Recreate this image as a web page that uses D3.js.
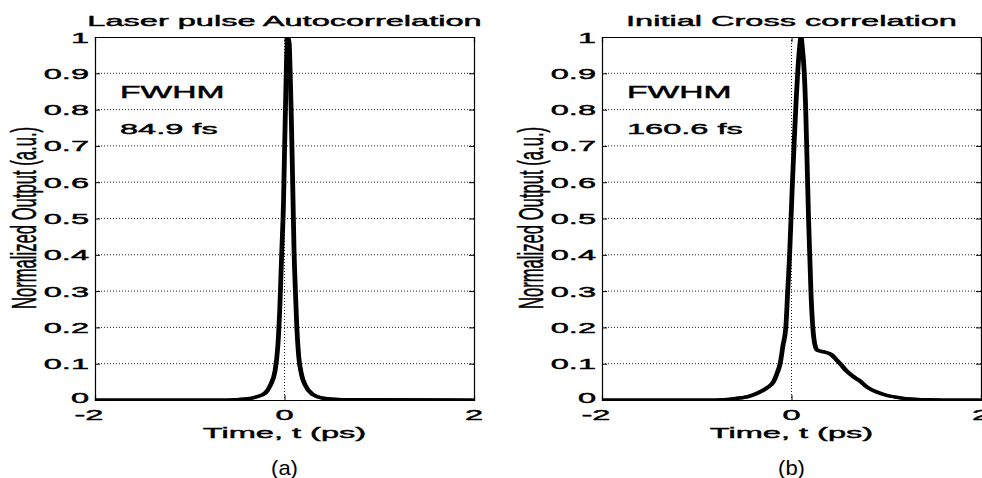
<!DOCTYPE html>
<html>
<head>
<meta charset="utf-8">
<script src="https://cdn.jsdelivr.net/npm/d3@7"></script>
<style>
  body { margin: 0; background: #fff; }
  svg { display: block; }
  text { font-family: "Liberation Sans", Arial, sans-serif; fill: #000; }
</style>
</head>
<body>
<svg id="canvas"></svg>
<script>
// pulse (a) - autocorrelation
let tLeft = [-2, -0.6, -0.4, -0.3, -0.2, -0.15, -0.1, -0.07, -0.05, -0.03, -0.01, 0.0, 0.01, 0.02, 0.035, 0.05, 0.06, 0.07, 0.08, 0.09, 0.10, 0.115, 0.13, 0.15, 0.18, 0.22, 0.3, 0.4, 0.6, 2];
let yLeft = [0, 0, 0.003, 0.008, 0.02, 0.04, 0.08, 0.15, 0.25, 0.4, 0.55, 0.68, 0.8, 0.92, 1.0, 0.98, 0.9, 0.8, 0.68, 0.55, 0.42, 0.3, 0.2, 0.12, 0.07, 0.04, 0.015, 0.005, 0.001, 0];

// pulse (b) - cross correlation
let tRight = [-2, -0.8, -0.6, -0.45, -0.35, -0.25, -0.19, -0.15, -0.12, -0.09, -0.06, -0.04, -0.02, -0.005, 0.01, 0.03, 0.05, 0.065, 0.085, 0.1, 0.115, 0.135, 0.15, 0.165, 0.18, 0.195, 0.205, 0.225, 0.245, 0.27, 0.3, 0.35, 0.42, 0.47, 0.52, 0.58, 0.65, 0.72, 0.8, 0.9, 1.0, 1.1, 1.2, 1.4, 1.6, 2];
let yRight = [0, 0, 0.004, 0.01, 0.02, 0.035, 0.05, 0.075, 0.1, 0.15, 0.2, 0.3, 0.4, 0.5, 0.6, 0.72, 0.83, 0.9, 0.97, 1.0, 0.97, 0.9, 0.8, 0.65, 0.5, 0.38, 0.3, 0.2, 0.155, 0.138, 0.135, 0.132, 0.125, 0.112, 0.098, 0.08, 0.065, 0.053, 0.035, 0.022, 0.013, 0.008, 0.004, 0.001, 0, 0];

let xTicks = [-2, 0, 2];
let yTicks = [0, 0.1, 0.2, 0.3, 0.4, 0.5, 0.6, 0.7, 0.8, 0.9, 1];
let titles = ["Laser pulse Autocorrelation", "Initial Cross correlation"];
let fwhm = ["84.9 fs", "160.6 fs"];
let captions = ["(a)", "(b)"];

let width = 982;
let height = 478;
let plotTop = 37;
let plotBottom = 400;
let plotW = 379;
let panelX = [95, 602];
let sx = 2.1; // the scan is stretched horizontally

let canvas = d3.select("#canvas")
  .attr("width", width)
  .attr("height", height);

canvas.append("rect").attr("width", width).attr("height", height).attr("fill", "#fff");

let xScale = d3.scaleLinear().domain([-2, 2]).range([0, plotW]);
let yScale = d3.scaleLinear().domain([0, 1]).range([plotBottom - plotTop, 0]);

let addText = (g, x, y, str, size, anchor, scaleX) => {
  return g.append("text")
    .attr("transform", "translate(" + x + "," + y + ") scale(" + scaleX + ",1)")
    .attr("text-anchor", anchor)
    .attr("font-size", size)
    .attr("stroke", "#000")
    .attr("stroke-width", 0.45)
    .text(str);
}

let drawPanel = (i, tVals, yVals) => {
  let g = canvas.append("g")
    .attr("transform", "translate(" + panelX[i] + "," + plotTop + ")");
  let h = plotBottom - plotTop;

  // dotted grid
  g.append("g").selectAll("line")
    .data(yTicks.filter(d => d > 0 && d < 1))
    .enter().append("line")
    .attr("x1", 0).attr("x2", plotW)
    .attr("y1", d => yScale(d)).attr("y2", d => yScale(d))
    .attr("stroke", "#222").attr("stroke-width", 1)
    .attr("stroke-dasharray", "1,2");

  g.append("line")
    .attr("x1", xScale(0)).attr("x2", xScale(0))
    .attr("y1", 0).attr("y2", h)
    .attr("stroke", "#222").attr("stroke-width", 1)
    .attr("stroke-dasharray", "1,2");

  // curve (drawn twice, a bit apart, so it is thicker sideways like the scan)
  let clipId = "clip" + i;
  g.append("clipPath").attr("id", clipId)
    .append("rect").attr("width", plotW).attr("height", h);

  let data = tVals.map((t, k) => [t, yVals[k]]);
  let line = d3.line()
    .x(d => xScale(d[0]))
    .y(d => yScale(d[1]))
    .curve(d3.curveMonotoneX);

  let curveG = g.append("g").attr("clip-path", "url(#" + clipId + ")");
  [-0.8, 0.8].forEach(dx => {
    curveG.append("path")
      .datum(data)
      .attr("transform", "translate(" + dx + ",0)")
      .attr("d", line)
      .attr("fill", "none")
      .attr("stroke", "#000")
      .attr("stroke-width", 3.2)
      .attr("stroke-linejoin", "round");
  });

  // axes, MATLAB style ticks inside
  let yAxisL = d3.axisLeft(yScale).tickValues(yTicks).tickSize(-5).tickFormat("");
  let yAxisR = d3.axisRight(yScale).tickValues(yTicks).tickSize(-5).tickFormat("");
  let xAxisB = d3.axisBottom(xScale).tickValues(xTicks).tickSize(-5).tickFormat("");
  let xAxisT = d3.axisTop(xScale).tickValues(xTicks).tickSize(-5).tickFormat("");

  g.append("g").call(yAxisL);
  g.append("g").attr("transform", "translate(" + plotW + ",0)").call(yAxisR);
  g.append("g").attr("transform", "translate(0," + h + ")").call(xAxisB);
  g.append("g").call(xAxisT);
  g.selectAll(".domain").attr("stroke", "#000").attr("stroke-width", 1.2);
  g.selectAll(".tick line").attr("stroke", "#000");

  // tick labels
  yTicks.forEach(d => {
    addText(g, -6, yScale(d) + (d === 0 ? 2.5 : 5.5), String(d), 15.5, "end", sx);
  });
  xTicks.forEach(d => {
    addText(g, xScale(d) + (d < 0 ? -6 : 0), h + 19.5, String(d), 15.5, "middle", sx);
  });

  addText(g, plotW / 2, -11, titles[i], 15.5, "middle", sx);
  addText(g, plotW / 2, h + 37.5, "Time, t (ps)", 15.5, "middle", sx);
  addText(g, 25, 61, "FWHM", 16, "start", sx);
  addText(g, 25, 97, fwhm[i], 15.5, "start", sx);

  g.append("text")
    .attr("transform", "translate(" + plotW / 2 + "," + (h + 75) + ") scale(1.1,1)")
    .attr("text-anchor", "middle")
    .attr("font-size", 20)
    .text(captions[i]);

  g.append("text")
    .attr("transform", "translate(-59," + (218 - plotTop) + ") rotate(-90) scale(1.04,2.15)")
    .attr("text-anchor", "middle")
    .attr("font-size", 16)
    .attr("stroke", "#000")
    .attr("stroke-width", 0.25)
    .text("Normalized Output (a.u.)");
}

drawPanel(0, tLeft, yLeft);
drawPanel(1, tRight, yRight);
</script>
</body>
</html>
